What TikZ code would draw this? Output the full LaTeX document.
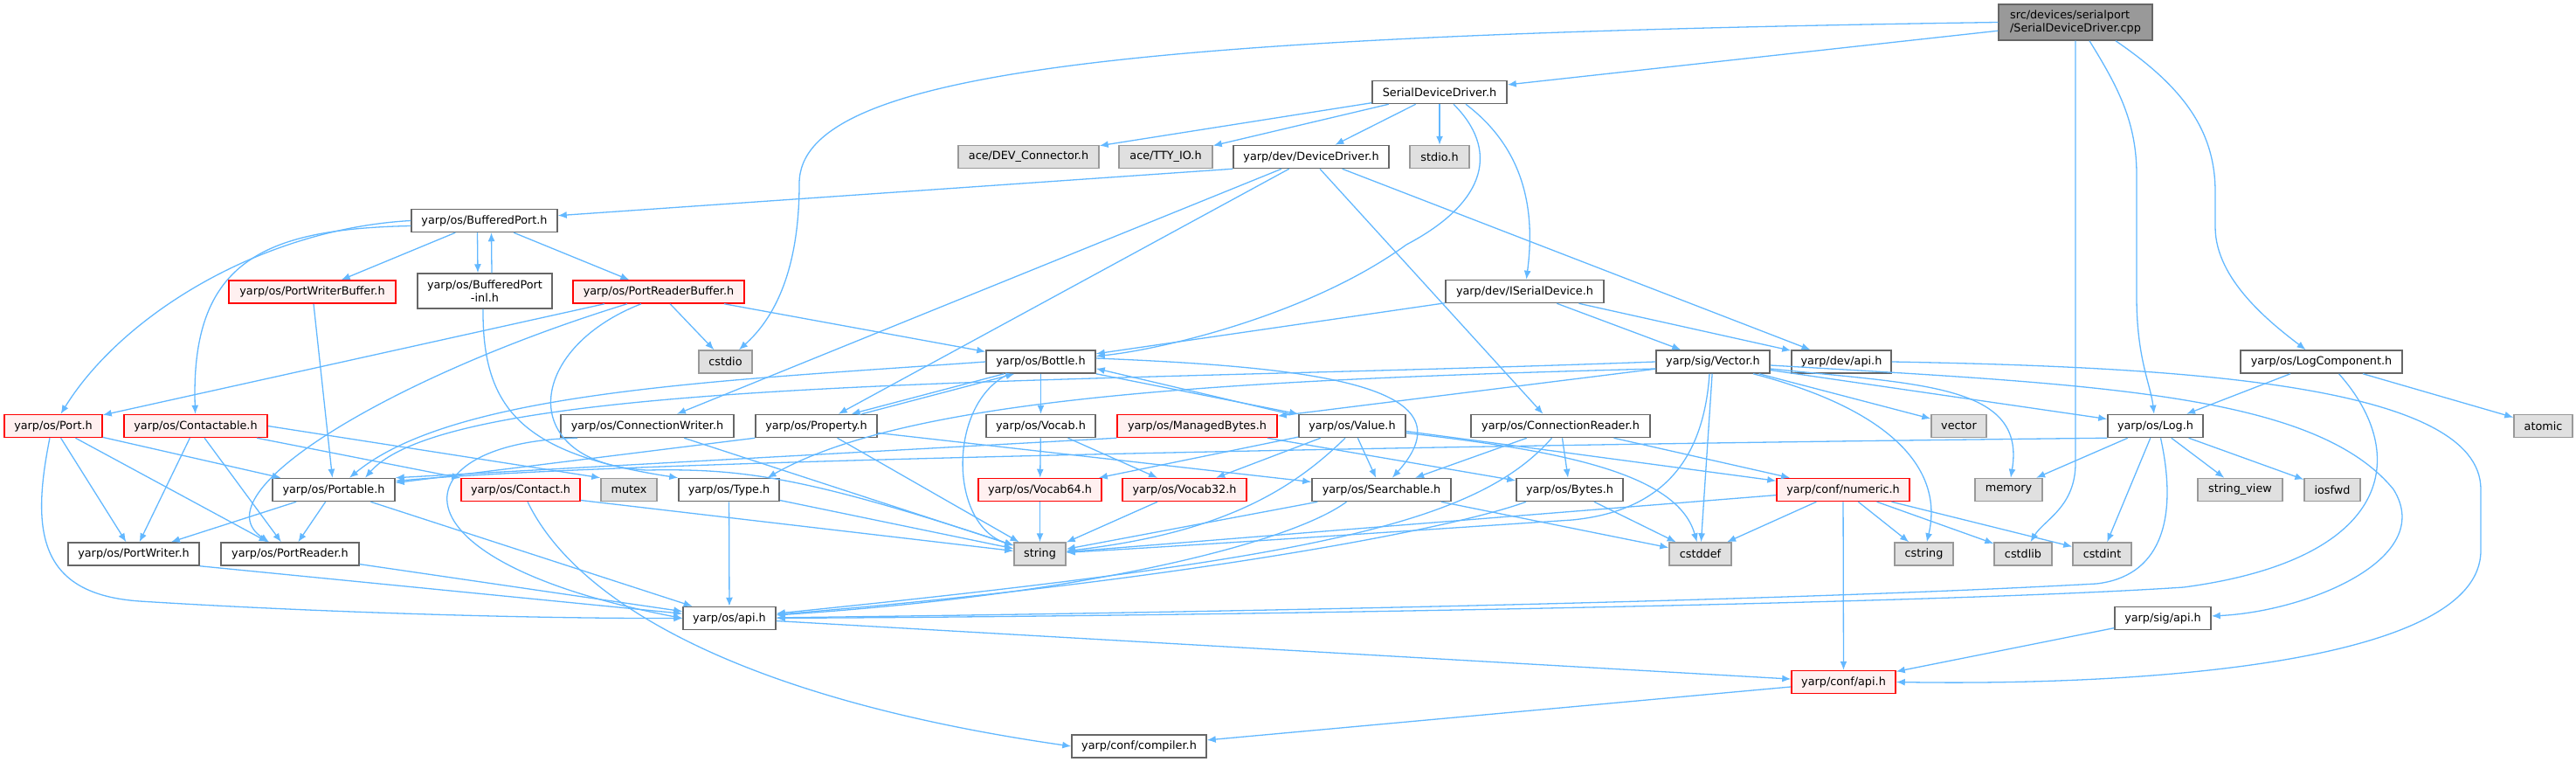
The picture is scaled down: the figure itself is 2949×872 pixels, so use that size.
\documentclass[tikz,border=0pt]{standalone}
\usepackage{fontspec}
\newfontfamily\dejavu{DejaVu Sans}
\usepackage{tikz}
\usetikzlibrary{arrows.meta}
\definecolor{edgeblue}{HTML}{63B8FF}
\definecolor{boxgray}{HTML}{666666}
\definecolor{extdraw}{HTML}{999999}
\definecolor{extfill}{HTML}{E0E0E0}
\definecolor{truncfill}{HTML}{FFF0F0}
\definecolor{rootfill}{HTML}{999999}

\begin{document}
\begin{tikzpicture}
	[x=0.5pt,y=-0.5pt,
	every node/.style={font=\dejavu\fontsize{6.4}{7.6}\selectfont,inner sep=0pt,minimum height=13pt,line width=0.75pt},
	hdr/.style={draw=boxgray,fill=white,minimum width=#1*0.5pt},
	ext/.style={draw=extdraw,fill=extfill,minimum width=#1*0.5pt},
	trunc/.style={draw=red,fill=truncfill,minimum width=#1*0.5pt},
	rootbox/.style={draw=boxgray,fill=rootfill,minimum width=#1*0.5pt},
	dep/.style={draw=edgeblue,line width=0.65pt,-{Latex[length=5pt,width=4pt]}}]
	\useasboundingbox (0,0) rectangle (2949,872);

	\node[rootbox=176,minimum height=20.5pt,align=left] (cpp) at (2376,25.5) {src/devices/serialport\\/SerialDeviceDriver.cpp};
	\node[hdr=154] (sdd) at (1648,105.5) {SerialDeviceDriver.h};
	\node[ext=161] (acedev) at (1177.5,179.5) {ace/DEV\_Connector.h};
	\node[ext=107] (acetty) at (1334.5,179.5) {ace/TTY\_IO.h};
	\node[hdr=178] (devdrv) at (1501,179.5) {yarp/dev/DeviceDriver.h};
	\node[ext=68] (stdioh) at (1648,179.5) {stdio.h};
	\node[hdr=167] (bport) at (554.5,252.5) {yarp/os/BufferedPort.h};
	\node[trunc=191] (pwbuf) at (357.5,334) {yarp/os/PortWriterBuffer.h};
	\node[hdr=154,minimum height=20pt,align=center] (bpinl) at (555,333) {yarp/os/BufferedPort\\-inl.h};
	\node[trunc=196] (prbuf) at (754,334) {yarp/os/PortReaderBuffer.h};
	\node[hdr=181] (iser) at (1745.5,333.5) {yarp/dev/ISerialDevice.h};
	\node[ext=61] (cstdio) at (830.5,414) {cstdio};
	\node[hdr=125] (bottle) at (1191.5,414) {yarp/os/Bottle.h};
	\node[hdr=130] (vecsig) at (1961,414) {yarp/sig/Vector.h};
	\node[hdr=114] (devapi) at (2108,414) {yarp/dev/api.h};
	\node[hdr=185] (logcomp) at (2657.5,414) {yarp/os/LogComponent.h};
	\node[trunc=112] (port) at (61,487.5) {yarp/os/Port.h};
	\node[trunc=164] (contactable) at (224,487.5) {yarp/os/Contactable.h};
	\node[hdr=198] (cwriter) at (741,487.5) {yarp/os/ConnectionWriter.h};
	\node[hdr=139] (property) at (934.5,487.5) {yarp/os/Property.h};
	\node[hdr=125] (vocab) at (1191.5,487.5) {yarp/os/Vocab.h};
	\node[trunc=183] (mbytes) at (1370.5,487.5) {yarp/os/ManagedBytes.h};
	\node[hdr=122] (value) at (1548,487.5) {yarp/os/Value.h};
	\node[hdr=205] (creader) at (1786.5,487.5) {yarp/os/ConnectionReader.h};
	\node[ext=63] (vecstd) at (2242.5,487.5) {vector};
	\node[hdr=109] (log) at (2467.5,487.5) {yarp/os/Log.h};
	\node[ext=67] (atomic) at (2911.5,487.5) {atomic};
	\node[hdr=140] (portable) at (382,560.5) {yarp/os/Portable.h};
	\node[trunc=136] (contact) at (596,560.5) {yarp/os/Contact.h};
	\node[ext=64] (mutex) at (720,560.5) {mutex};
	\node[hdr=115] (type) at (834.5,560.5) {yarp/os/Type.h};
	\node[trunc=141] (vocab64) at (1190.5,560.5) {yarp/os/Vocab64.h};
	\node[trunc=142] (vocab32) at (1356,560.5) {yarp/os/Vocab32.h};
	\node[hdr=159] (searchable) at (1581.5,560.5) {yarp/os/Searchable.h};
	\node[hdr=122] (bytes) at (1797,560.5) {yarp/os/Bytes.h};
	\node[trunc=152] (numeric) at (2110,560.5) {yarp/conf/numeric.h};
	\node[ext=77] (memory) at (2299.5,560.5) {memory};
	\node[ext=97] (strview) at (2564.5,560.5) {string\_view};
	\node[ext=64] (iosfwd) at (2670,560.5) {iosfwd};
	\node[hdr=150] (pwriter) at (153,634) {yarp/os/PortWriter.h};
	\node[hdr=158] (preader) at (332,634) {yarp/os/PortReader.h};
	\node[ext=59] (string) at (1190.5,634) {string};
	\node[ext=71] (cstddef) at (1946.5,634) {cstddef};
	\node[ext=67] (cstring) at (2202.5,634) {cstring};
	\node[ext=66] (cstdlib) at (2316,634) {cstdlib};
	\node[ext=67] (cstdint) at (2406.5,634) {cstdint};
	\node[hdr=106] (osapi) at (835,707.5) {yarp/os/api.h};
	\node[hdr=110] (sigapi) at (2476,707.5) {yarp/sig/api.h};
	\node[trunc=119] (confapi) at (2110.5,780.5) {yarp/conf/api.h};
	\node[hdr=154] (compiler) at (1304,854) {yarp/conf/compiler.h};

	\draw[dep] (cpp) -- (sdd);
	\draw[dep] (cpp.west) .. controls (1300,40) and (915,80) .. (915,210) .. controls (915,320) and (880,370) .. (cstdio);
	\draw[dep] (cpp.south) -- (2376,530) .. controls (2376,580) and (2340,595) .. (cstdlib);
	\draw[dep] ([xshift=8pt]cpp.south) .. controls (2425,100) and (2446,140) .. (2446,200) -- (2446,340) .. controls (2446,410) and (2462,440) .. (log);
	\draw[dep] ([xshift=23pt]cpp.south) .. controls (2500,100) and (2536,150) .. (2536,220) -- (2536,260) .. controls (2536,320) and (2600,370) .. (logcomp);
	\draw[dep] (sdd) -- (acedev);
	\draw[dep] (sdd) -- (acetty);
	\draw[dep] (sdd) -- (devdrv);
	\draw[dep] (sdd) -- (stdioh);
	\draw[dep] ([xshift=8pt]sdd.south) .. controls (1715,170) and (1705,230) .. (1610,280) .. controls (1500,360) and (1330,400) .. (bottle);
	\draw[dep] ([xshift=15pt]sdd.south) .. controls (1745,170) and (1758,240) .. (iser);
	\draw[dep] (devdrv.south west) -- (bport);
	\draw[dep] (devdrv) -- (cwriter);
	\draw[dep] (devdrv) -- (property);
	\draw[dep] ([xshift=5pt]devdrv.south) -- ([xshift=-10pt]creader.north);
	\draw[dep] (devdrv) -- (devapi);
	\draw[dep] (bport) -- (pwbuf);
	\draw[dep] ([xshift=-4pt]bport.south) -- ([xshift=-4pt]bpinl.north);
	\draw[dep] (bport) -- (prbuf);
	\draw[dep] (bport.west) .. controls (300,262) and (140,360) .. (port);
	\draw[dep] ([yshift=-3pt]bport.west) .. controls (300,262) and (218,300) .. (contactable);
	\draw[dep] ([xshift=4pt]bpinl.north) -- ([xshift=4pt]bport.south);
	\draw[dep] ([xshift=-1pt]bpinl.south) .. controls (552,470) and (600,520) .. (type.north west);
	\draw[dep] (pwbuf) -- (portable);
	\draw[dep] (prbuf) -- (cstdio);
	\draw[dep] (prbuf) -- (bottle);
	\draw[dep] (prbuf) -- (port);
	\draw[dep] ([xshift=-18pt]prbuf.south) .. controls (450,430) and (225,565) .. ([xshift=-12pt]preader.north);
	\draw[dep] ([xshift=-10pt]prbuf.south) .. controls (600,400) and (590,530) .. (740,538) .. controls (850,536) and (920,545) .. (string);
	\draw[dep] (iser) -- (bottle);
	\draw[dep] (iser) -- (vecsig);
	\draw[dep] (iser) -- (devapi);
	\draw[dep] (bottle) -- (vocab);
	\draw[dep] ([xshift=-21pt]bottle.south) -- ([xshift=20pt]property.north);
	\draw[dep] ([xshift=26pt]property.north) -- ([xshift=-15pt]bottle.south);
	\draw[dep] (bottle.south east) -- (value.north west);
	\draw[dep] ([xshift=-5pt]value.north west) -- ([yshift=3pt]bottle.south east);
	\draw[dep] (bottle.west) .. controls (820,436) and (520,448) .. ([xshift=9pt]portable.north);
	\draw[dep] ([yshift=2pt]bottle.east) .. controls (1500,420) and (1690,440) .. (searchable);
	\draw[dep] ([xshift=-18pt]bottle.south) .. controls (1085,460) and (1085,600) .. (string);
	\draw[dep] (vecsig) -- (mbytes);
	\draw[dep] (vecsig) -- (cstddef);
	\draw[dep] (vecsig) -- (vecstd);
	\draw[dep] (vecsig) -- (log);
	\draw[dep] (vecsig.west) .. controls (1200,440) and (520,430) .. ([xshift=18pt]portable.north);
	\draw[dep] ([yshift=-4pt]vecsig.west) .. controls (1400,435) and (1040,455) .. ([xshift=22pt]type.north);
	\draw[dep] ([xshift=-2pt]vecsig.south) .. controls (1950,530) and (1900,585) .. (1800,595) .. controls (1500,615) and (1350,625) .. (string);
	\draw[dep] ([xshift=23pt]vecsig.south) .. controls (2170,470) and (2225,540) .. (cstring);
	\draw[dep] ([yshift=-4pt]vecsig.east) .. controls (2200,440) and (2320,440) .. (memory);
	\draw[dep] ([yshift=-2pt]vecsig.east) .. controls (2400,440) and (2650,450) .. (2740,560) .. controls (2790,640) and (2640,700) .. (sigapi);
	\draw[dep] (devapi.east) .. controls (2500,420) and (2840,440) .. (2840,560) -- (2840,630) .. controls (2840,760) and (2450,785) .. (confapi.east);
	\draw[dep] (logcomp) -- (log);
	\draw[dep] (logcomp) -- (atomic);
	\draw[dep] ([xshift=10pt]logcomp.south) .. controls (2760,520) and (2740,640) .. (2500,672) .. controls (2200,692) and (1300,706) .. (osapi);
	\draw[dep] (port) -- (portable);
	\draw[dep] (port) -- (pwriter);
	\draw[dep] (port) -- (preader);
	\draw[dep] ([xshift=-2pt]port.south) .. controls (35,610) and (45,680) .. (160,688) .. controls (350,700) and (600,708) .. (osapi.west);
	\draw[dep] (contactable) -- (pwriter);
	\draw[dep] (contactable) -- (preader);
	\draw[dep] (contactable) -- (contact);
	\draw[dep] (contactable.east) -- (mutex.north west);
	\draw[dep] ([xshift=-40pt]cwriter.south) .. controls (460,505) and (430,640) .. (osapi.west);
	\draw[dep] (cwriter) -- (string);
	\draw[dep] (property) -- (searchable);
	\draw[dep] (property) -- (string);
	\draw[dep] (property.south west) -- ([yshift=4pt]portable.east);
	\draw[dep] (vocab) -- (vocab64);
	\draw[dep] (vocab) -- (vocab32);
	\draw[dep] (mbytes.south west) -- (portable.north east);
	\draw[dep] (mbytes) -- (bytes);
	\draw[dep] (value) -- (vocab64);
	\draw[dep] (value) -- (vocab32);
	\draw[dep] (value) -- (searchable);
	\draw[dep] ([yshift=-3pt]value.east) -- (numeric);
	\draw[dep] ([xshift=-4pt]value.south) .. controls (1480,560) and (1400,610) .. (string);
	\draw[dep] ([yshift=-4pt]value.east) .. controls (1780,515) and (1920,540) .. (cstddef);
	\draw[dep] (creader) -- (searchable);
	\draw[dep] (creader) -- (bytes);
	\draw[dep] (creader) -- (numeric);
	\draw[dep] ([xshift=-5pt]creader.south) .. controls (1690,600) and (1500,640) .. (osapi);
	\draw[dep] (log) -- (memory);
	\draw[dep] (log) -- (strview);
	\draw[dep] (log) -- (iosfwd);
	\draw[dep] (log) -- (cstdint);
	\draw[dep] (log.south west) .. controls (1600,510) and (700,528) .. ([yshift=5pt]portable.east);
	\draw[dep] ([xshift=3pt]log.south) .. controls (2495,600) and (2470,660) .. (2400,668) .. controls (2000,690) and (1300,702) .. (osapi);
	\draw[dep] (portable) -- (pwriter);
	\draw[dep] (portable) -- (preader);
	\draw[dep] (portable) -- (osapi);
	\draw[dep] ([yshift=-6pt]contact.east) -- (string);
	\draw[dep] ([xshift=4pt]contact.south) .. controls (660,690) and (850,800) .. (compiler.west);
	\draw[dep] (type) -- (osapi);
	\draw[dep] (type) -- (string);
	\draw[dep] (vocab64) -- (string);
	\draw[dep] (vocab32) -- (string);
	\draw[dep] (searchable) -- (string);
	\draw[dep] (searchable) -- (cstddef);
	\draw[dep] ([xshift=-20pt]searchable.south) .. controls (1480,620) and (1250,680) .. (osapi);
	\draw[dep] (bytes) -- (cstddef);
	\draw[dep] ([xshift=-25pt]bytes.south) .. controls (1650,610) and (1300,670) .. (osapi);
	\draw[dep] (numeric) -- (string);
	\draw[dep] (numeric) -- (cstddef);
	\draw[dep] (numeric) -- (cstring);
	\draw[dep] (numeric) -- (cstdlib);
	\draw[dep] (numeric) -- (cstdint);
	\draw[dep] (numeric) -- (confapi);
	\draw[dep] (pwriter.south east) -- (osapi);
	\draw[dep] (preader) -- (osapi);
	\draw[dep] (osapi) -- (confapi);
	\draw[dep] (sigapi) -- (confapi);
	\draw[dep] (confapi) -- (compiler);
\end{tikzpicture}
\end{document}
